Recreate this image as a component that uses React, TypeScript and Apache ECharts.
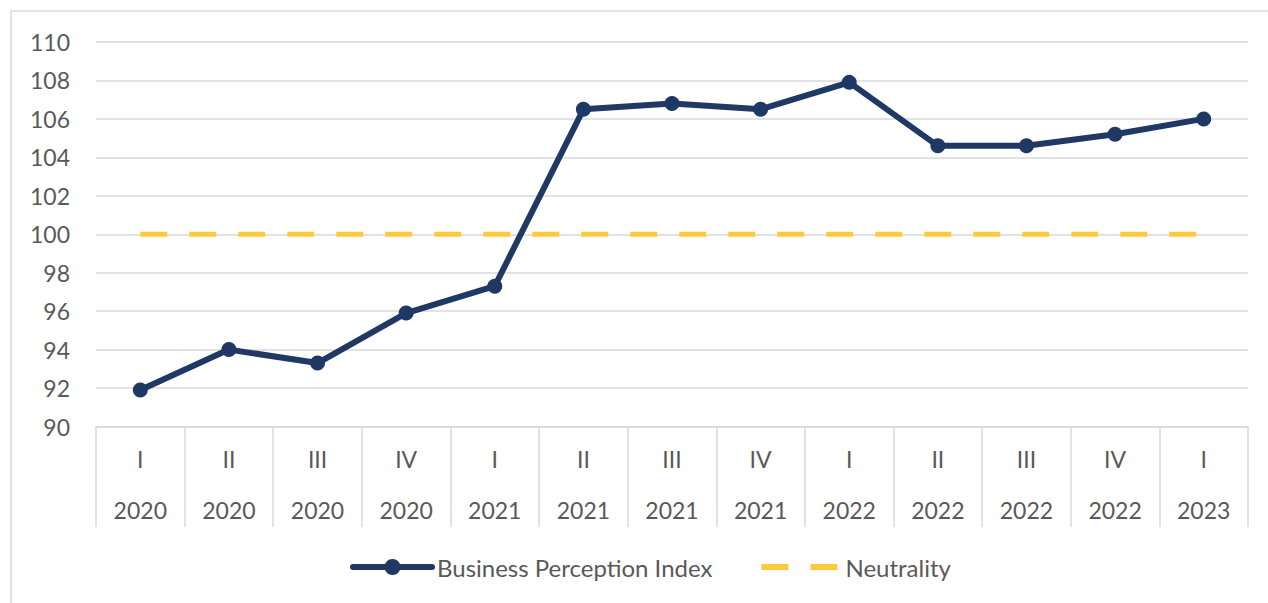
import React, { useEffect, useRef } from "react";
import * as echarts from "echarts";

const quarters = ["I", "II", "III", "IV", "I", "II", "III", "IV", "I", "II", "III", "IV", "I"];
const years = ["2020", "2020", "2020", "2020", "2021", "2021", "2021", "2021", "2022", "2022", "2022", "2022", "2023"];
const bpiValues = [91.9, 94.0, 93.3, 95.9, 97.3, 106.5, 106.8, 106.5, 107.9, 104.6, 104.6, 105.2, 106.0];
const neutralityValues = [100, 100, 100, 100, 100, 100, 100, 100, 100, 100, 100, 100, 100];
const yTicks = { min: 90, max: 110, interval: 2 };

const FONT = "Lato, 'Noto Sans', sans-serif";
const TEXT = "#595959";
const GRID = "#d9d9d9";
const NAVY = "#1F3864";
const GOLD = "#FFC93C";

export default function App() {
  const ref = useRef<HTMLDivElement>(null);
  useEffect(() => {
    const chart = echarts.init(ref.current!, null, { renderer: "svg" });
    const categories = quarters.map((q, i) => q + "\n" + years[i]);
    chart.setOption({
      animation: false,
      backgroundColor: "#ffffff",
      textStyle: { fontFamily: FONT },
      graphic: [
        {
          type: "rect",
          shape: { x: 11, y: 11, width: 1300, height: 700 },
          style: { fill: "none", stroke: GRID, lineWidth: 1.5 },
          silent: true,
        },
      ],
      grid: { left: 96, right: 20, top: 42, bottom: 176.5, containLabel: false },
      legend: {
        top: 555,
        left: 350,
        itemWidth: 79,
        itemHeight: 20,
        itemGap: 46,
        padding: 0,
        textStyle: { fontFamily: FONT, fontSize: 24, color: TEXT },
        data: [
          {
            name: "Business Perception Index",
            lineStyle: { width: 6, color: NAVY },
            itemStyle: { color: NAVY },
          },
          {
            name: "Neutrality",
            lineStyle: { width: 6, color: GOLD, type: [27, 22] },
            itemStyle: { opacity: 0 },
          },
        ],
      },
      xAxis: {
        type: "category",
        data: categories,
        boundaryGap: true,
        axisLine: { show: true, lineStyle: { color: GRID, width: 1.5 } },
        axisTick: {
          show: true,
          alignWithLabel: false,
          length: 100.5,
          lineStyle: { color: GRID, width: 1.5 },
        },
        axisLabel: {
          interval: 0,
          margin: 7,
          fontFamily: FONT,
          fontSize: 23,
          color: TEXT,
          lineHeight: 51,
        },
        splitLine: { show: false },
      },
      yAxis: {
        type: "value",
        min: yTicks.min,
        max: yTicks.max,
        interval: yTicks.interval,
        axisLine: { show: false },
        axisTick: { show: false },
        axisLabel: { margin: 26, fontFamily: FONT, fontSize: 23, color: TEXT },
        splitLine: { show: true, lineStyle: { color: GRID, width: 1.5 } },
      },
      series: [
        {
          name: "Neutrality",
          type: "line",
          data: neutralityValues,
          symbol: "none",
          z: 2,
          lineStyle: { color: GOLD, width: 5, type: [27, 22] },
          itemStyle: { color: GOLD },
        },
        {
          name: "Business Perception Index",
          type: "line",
          data: bpiValues,
          symbol: "circle",
          symbolSize: 15,
          z: 3,
          lineStyle: { color: NAVY, width: 6, join: "round", cap: "round" },
          itemStyle: { color: NAVY },
        },
      ],
    });
    return () => chart.dispose();
  }, []);
  return (
    <div
      ref={ref}
      style={{ position: "absolute", left: 0, top: 0, width: 1268, height: 603 }}
    />
  );
}
